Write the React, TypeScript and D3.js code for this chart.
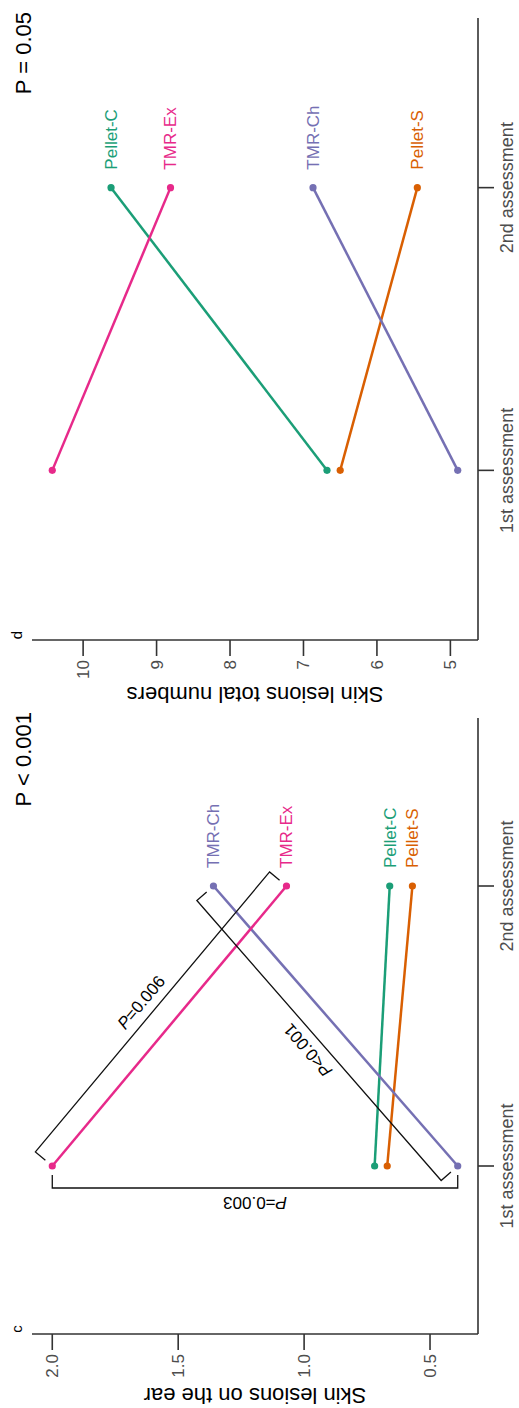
import React from 'react';
import * as d3 from 'd3';

// chart is drawn landscape and turned a quarter turn to fit the tall page
const pageW = 519;
const pageH = 1408;

const assessments = ['1st assessment', '2nd assessment'];
const groups = ['Pellet-C', 'Pellet-S', 'TMR-Ch', 'TMR-Ex'];
const groupColors = ['#1B9E77', '#D95F02', '#7570B3', '#E7298A'];

// c: skin lesions on the ear
const earFirst = [0.72, 0.67, 0.39, 2.0];
const earSecond = [0.66, 0.57, 1.36, 1.07];
const earTicks = [0.5, 1.0, 1.5, 2.0];

// d: skin lesions total numbers
const totalFirst = [6.68, 6.5, 4.9, 10.42];
const totalSecond = [9.62, 5.45, 6.87, 8.81];
const totalTicks = [5, 6, 7, 8, 9, 10];

// pairwise comparisons drawn on panel c: [group, assessment index]
const earBrackets = [
    { a: ['TMR-Ex', 0], b: ['TMR-Ch', 0], p: '=0.003', side: -1 },
    { a: ['TMR-Ex', 0], b: ['TMR-Ex', 1], p: '=0.006', side: 1 },
    { a: ['TMR-Ch', 0], b: ['TMR-Ch', 1], p: '<0.001', side: 1 },
];

const font = "'Liberation Sans', Arial, Helvetica, sans-serif";
const top = 32;
const bottom = 478;

const panels = [
    {
        letter: 'c',
        first: earFirst,
        second: earSecond,
        ticks: earTicks,
        fmt: d3.format('.1f'),
        left: 74,
        right: 690,
        title: 'Skin lesions on the ear',
        titleGap: 54,
        pText: 'P < 0.001',
        brackets: earBrackets,
    },
    {
        letter: 'd',
        first: totalFirst,
        second: totalSecond,
        ticks: totalTicks,
        fmt: d3.format('d'),
        left: 768,
        right: 1390,
        title: 'Skin lesions total numbers',
        titleGap: 47,
        pText: 'P = 0.05',
        brackets: [],
    },
];

const Panel = ({ panel }) => {
    const all = panel.first.concat(panel.second);
    const [lo, hi] = d3.extent(all);
    const pad = (hi - lo) * 0.05;

    const x = d3.scalePoint().domain(assessments).range([panel.left, panel.right]).padding(0.6);
    const y = d3.scaleLinear().domain([lo - pad, hi + pad]).range([bottom, top]);

    const series = groups.map((g, i) => ({
        name: g,
        color: groupColors[i],
        values: [panel.first[i], panel.second[i]],
    }));
    const line = d3
        .line()
        .x((d, i) => x(assessments[i]))
        .y((d) => y(d));

    const pt = (ref) => {
        const s = series.find((d) => d.name === ref[0]);
        return [x(assessments[ref[1]]), y(s.values[ref[1]])];
    };

    return (
        <g>
            {/* axes */}
            <line x1={panel.left} x2={panel.left} y1={top} y2={bottom} stroke="#333" strokeWidth={1.6} />
            <line x1={panel.left} x2={panel.right} y1={bottom} y2={bottom} stroke="#333" strokeWidth={1.6} />
            {panel.ticks.map((t) => (
                <g key={t}>
                    <line x1={panel.left - 16} x2={panel.left} y1={y(t)} y2={y(t)} stroke="#333" strokeWidth={1.6} />
                    <text x={panel.left - 20} y={y(t)} dy="0.35em" textAnchor="end" fontSize={17} fill="#4d4d4d">
                        {panel.fmt(t)}
                    </text>
                </g>
            ))}
            {assessments.map((a) => (
                <g key={a}>
                    <line x1={x(a)} x2={x(a)} y1={bottom} y2={bottom + 16} stroke="#333" strokeWidth={1.6} />
                    <text x={x(a)} y={bottom + 35} textAnchor="middle" fontSize={18} fill="#4d4d4d">
                        {a}
                    </text>
                </g>
            ))}
            <text
                transform={`translate(${panel.left - panel.titleGap},${(top + bottom) / 2}) rotate(-90)`}
                textAnchor="middle"
                fontSize={22}
                fill="#000"
            >
                {panel.title}
            </text>
            <text x={panel.left + 5} y={22} textAnchor="middle" fontSize={15} fill="#000">
                {panel.letter}
            </text>
            <text x={panel.right + 6} y={31} textAnchor="end" fontSize={22} fill="#000">
                {panel.pText}
            </text>

            {/* series */}
            {series.map((s) => (
                <g key={s.name}>
                    <path d={line(s.values)} fill="none" stroke={s.color} strokeWidth={2.5} />
                    {s.values.map((v, i) => (
                        <circle key={i} cx={x(assessments[i])} cy={y(v)} r={3.6} fill={s.color} />
                    ))}
                    <text
                        x={x(assessments[1]) + 18}
                        y={y(s.values[1])}
                        dy="0.35em"
                        fontSize={17}
                        fill={s.color}
                    >
                        {s.name}
                    </text>
                </g>
            ))}

            {/* comparison brackets */}
            {panel.brackets.map((b, i) => {
                const p1 = pt(b.a);
                const p2 = pt(b.b);
                const len = Math.hypot(p2[0] - p1[0], p2[1] - p1[1]);
                const dx = (p2[0] - p1[0]) / len;
                const dy = (p2[1] - p1[1]) / len;
                const n = [dy * b.side, -dx * b.side];
                const off = (p, k) => [p[0] + n[0] * k, p[1] + n[1] * k];
                const path = d3.path();
                const a0 = off(p1, 9);
                const a1 = off(p1, 22);
                const b1 = off(p2, 22);
                const b0 = off(p2, 9);
                path.moveTo(a0[0], a0[1]);
                path.lineTo(a1[0], a1[1]);
                path.lineTo(b1[0], b1[1]);
                path.lineTo(b0[0], b0[1]);
                const mid = off([(p1[0] + p2[0]) / 2, (p1[1] + p2[1]) / 2], 31);
                const angle = (Math.atan2(n[0], -n[1]) * 180) / Math.PI;
                return (
                    <g key={i}>
                        <path d={path.toString()} fill="none" stroke="#111" strokeWidth={1.3} />
                        <text
                            transform={`translate(${mid[0]},${mid[1]}) rotate(${angle})`}
                            textAnchor="middle"
                            fontSize={17}
                            fill="#000"
                        >
                            <tspan fontStyle="italic">P</tspan>
                            {b.p}
                        </text>
                    </g>
                );
            })}
        </g>
    );
};

export default function App() {
    return (
        <svg
            width={pageW}
            height={pageH}
            style={{ position: 'absolute', top: 0, left: 0, background: '#fff' }}
            fontFamily={font}
        >
            <g transform={`translate(0,${pageH}) rotate(-90)`}>
                {panels.map((p) => (
                    <Panel key={p.letter} panel={p} />
                ))}
            </g>
        </svg>
    );
}
